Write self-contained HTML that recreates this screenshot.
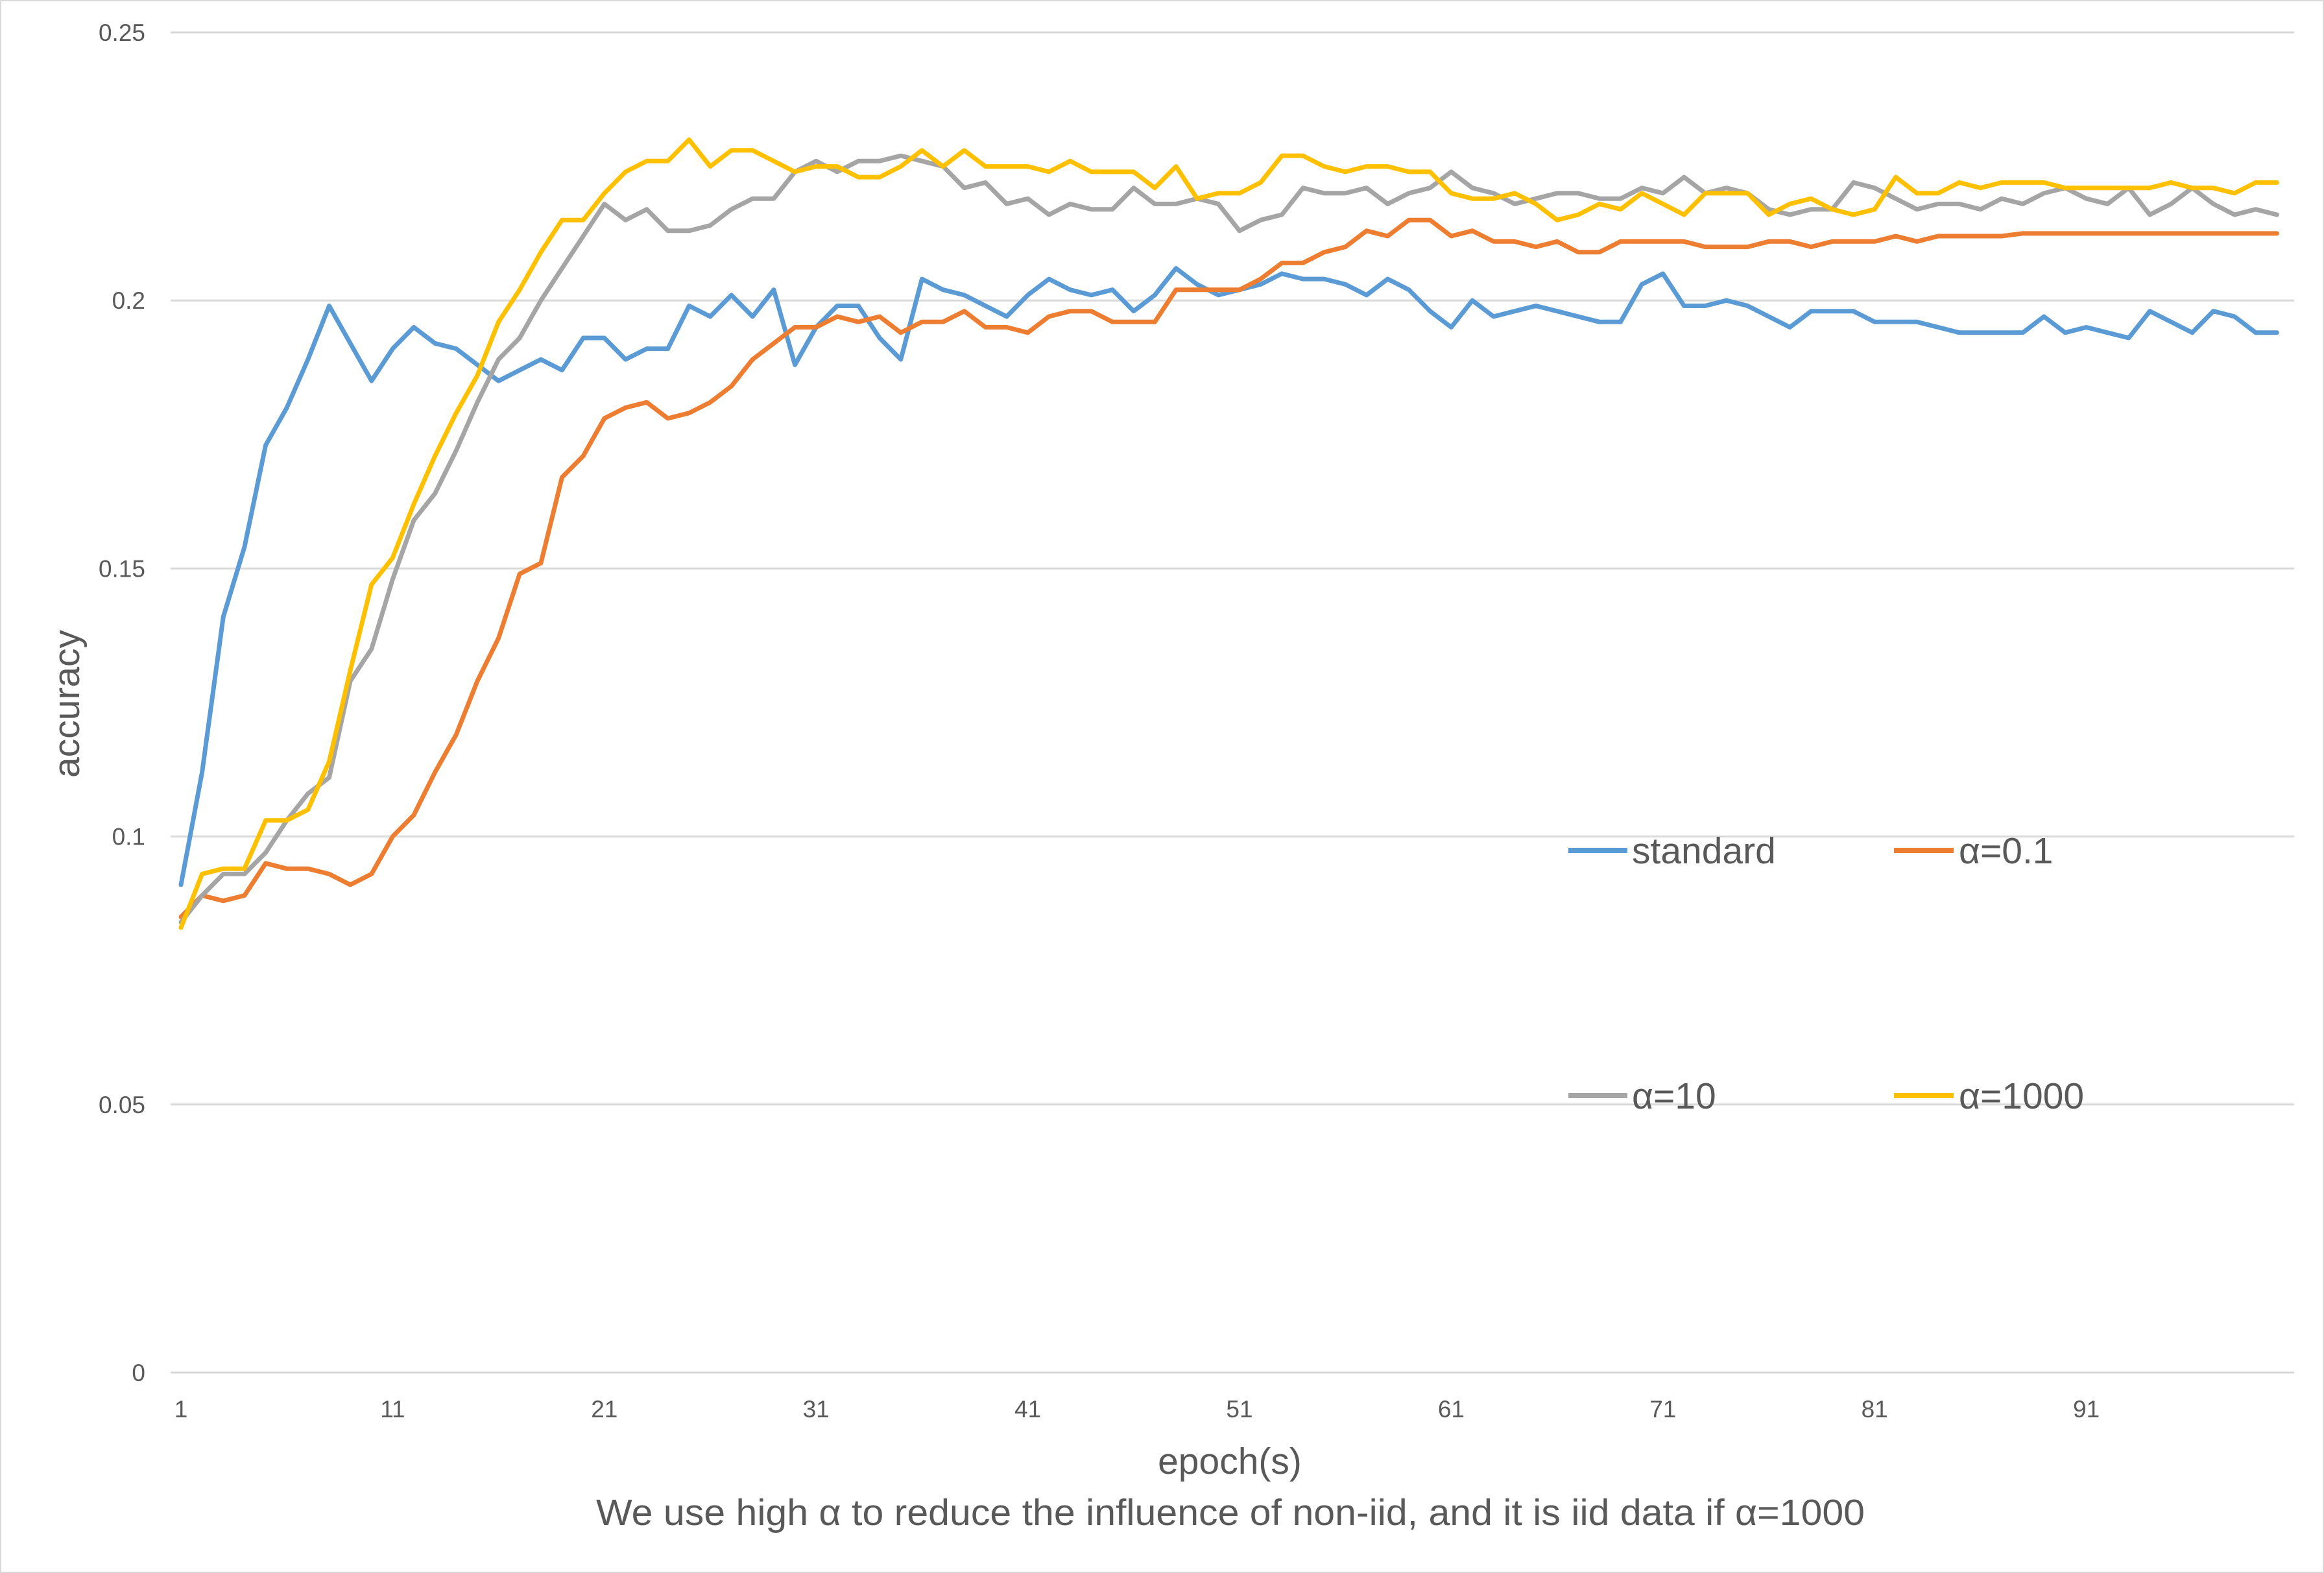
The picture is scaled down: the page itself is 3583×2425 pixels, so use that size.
<!DOCTYPE html>
<html><head><meta charset="utf-8"><style>
body{margin:0;background:#fff;}
svg{display:block;font-family:"Liberation Sans",sans-serif;}
</style></head><body>
<svg id="chart" width="3583" height="2425" viewBox="0 0 3583 2425">
<rect x="1" y="1" width="3581" height="2423" fill="#fff" stroke="#d9d9d9" stroke-width="2"/>
<g id="grid"></g><g id="ticks"></g><g id="lines"></g>
<text x="1896" y="2272" font-size="57" fill="#595959" text-anchor="middle">epoch(s)</text>
<text x="919" y="2351" font-size="57" fill="#595959" textLength="1956" lengthAdjust="spacingAndGlyphs">We use high α to reduce the influence of non-iid, and it is iid data if α=1000</text>
<text transform="translate(122,1085) rotate(-90)" font-size="57" fill="#595959" text-anchor="middle">accuracy</text>
<g>
<line x1="2418" y1="1311" x2="2509" y2="1311" stroke="#5b9bd5" stroke-width="8"/>
<text x="2516" y="1331" font-size="57" fill="#595959">standard</text>
<line x1="2920" y1="1311" x2="3012" y2="1311" stroke="#ed7d31" stroke-width="8"/>
<text x="3020" y="1331" font-size="57" fill="#595959">α=0.1</text>
<line x1="2418" y1="1689" x2="2509" y2="1689" stroke="#a5a5a5" stroke-width="8"/>
<text x="2516" y="1709" font-size="57" fill="#595959">α=10</text>
<line x1="2920" y1="1689" x2="3012" y2="1689" stroke="#ffc000" stroke-width="8"/>
<text x="3020" y="1709" font-size="57" fill="#595959">α=1000</text>
</g>
</svg>
<script>
const yTicks=[0,0.05,0.1,0.15,0.2,0.25];
const yTickLabels=["0","0.05","0.1","0.15","0.2","0.25"];
const xTicks=[1,11,21,31,41,51,61,71,81,91];
const standard=[0.091,0.112,0.141,0.154,0.173,0.180,0.189,0.199,0.192,0.185,0.191,0.195,0.192,0.191,0.188,0.185,0.187,0.189,0.187,0.193,0.193,0.189,0.191,0.191,0.199,0.197,0.201,0.197,0.202,0.188,0.195,0.199,0.199,0.193,0.189,0.204,0.202,0.201,0.199,0.197,0.201,0.204,0.202,0.201,0.202,0.198,0.201,0.206,0.203,0.201,0.202,0.203,0.205,0.204,0.204,0.203,0.201,0.204,0.202,0.198,0.195,0.200,0.197,0.198,0.199,0.198,0.197,0.196,0.196,0.203,0.205,0.199,0.199,0.200,0.199,0.197,0.195,0.198,0.198,0.198,0.196,0.196,0.196,0.195,0.194,0.194,0.194,0.194,0.197,0.194,0.195,0.194,0.193,0.198,0.196,0.194,0.198,0.197,0.194,0.194];
const alpha01=[0.085,0.089,0.088,0.089,0.095,0.094,0.094,0.093,0.091,0.093,0.100,0.104,0.112,0.119,0.129,0.137,0.149,0.151,0.167,0.171,0.178,0.180,0.181,0.178,0.179,0.181,0.184,0.189,0.192,0.195,0.195,0.197,0.196,0.197,0.194,0.196,0.196,0.198,0.195,0.195,0.194,0.197,0.198,0.198,0.196,0.196,0.196,0.202,0.202,0.202,0.202,0.204,0.207,0.207,0.209,0.210,0.213,0.212,0.215,0.215,0.212,0.213,0.211,0.211,0.210,0.211,0.209,0.209,0.211,0.211,0.211,0.211,0.210,0.210,0.210,0.211,0.211,0.210,0.211,0.211,0.211,0.212,0.211,0.212,0.212,0.212,0.212,0.2125,0.2125,0.2125,0.2125,0.2125,0.2125,0.2125,0.2125,0.2125,0.2125,0.2125,0.2125,0.2125];
const alpha10=[0.084,0.089,0.093,0.093,0.097,0.103,0.108,0.111,0.129,0.135,0.148,0.159,0.164,0.172,0.181,0.189,0.193,0.200,0.206,0.212,0.218,0.215,0.217,0.213,0.213,0.214,0.217,0.219,0.219,0.224,0.226,0.224,0.226,0.226,0.227,0.226,0.225,0.221,0.222,0.218,0.219,0.216,0.218,0.217,0.217,0.221,0.218,0.218,0.219,0.218,0.213,0.215,0.216,0.221,0.220,0.220,0.221,0.218,0.220,0.221,0.224,0.221,0.220,0.218,0.219,0.220,0.220,0.219,0.219,0.221,0.220,0.223,0.220,0.221,0.220,0.217,0.216,0.217,0.217,0.222,0.221,0.219,0.217,0.218,0.218,0.217,0.219,0.218,0.220,0.221,0.219,0.218,0.221,0.216,0.218,0.221,0.218,0.216,0.217,0.216];
const alpha1000=[0.083,0.093,0.094,0.094,0.103,0.103,0.105,0.114,0.131,0.147,0.152,0.162,0.171,0.179,0.186,0.196,0.202,0.209,0.215,0.215,0.220,0.224,0.226,0.226,0.230,0.225,0.228,0.228,0.226,0.224,0.225,0.225,0.223,0.223,0.225,0.228,0.225,0.228,0.225,0.225,0.225,0.224,0.226,0.224,0.224,0.224,0.221,0.225,0.219,0.220,0.220,0.222,0.227,0.227,0.225,0.224,0.225,0.225,0.224,0.224,0.220,0.219,0.219,0.220,0.218,0.215,0.216,0.218,0.217,0.220,0.218,0.216,0.220,0.220,0.220,0.216,0.218,0.219,0.217,0.216,0.217,0.223,0.220,0.220,0.222,0.221,0.222,0.222,0.222,0.221,0.221,0.221,0.221,0.221,0.222,0.221,0.221,0.220,0.222,0.222];
const seriesNames=["standard","alpha-0.1","alpha-10","alpha-1000"];
const seriesColors=["#5b9bd5","#ed7d31","#a5a5a5","#ffc000"];
const NS="http://www.w3.org/2000/svg";
function xs(e){return 279+(e-1)*32.64;}
function ys(v){return 2116-v*(2116-50)/0.25;}
const grid=document.getElementById('grid'),ticks=document.getElementById('ticks'),lines=document.getElementById('lines');
yTicks.forEach((v,i)=>{
  const l=document.createElementNS(NS,'line');
  l.setAttribute('x1',263);l.setAttribute('x2',3537);l.setAttribute('y1',ys(v));l.setAttribute('y2',ys(v));
  l.setAttribute('stroke','#d9d9d9');l.setAttribute('stroke-width',3);
  
  
  grid.appendChild(l);
  const t=document.createElementNS(NS,'text');
  t.setAttribute('x',224);t.setAttribute('y',ys(v)+13);t.setAttribute('text-anchor','end');
  t.setAttribute('font-size',37);t.setAttribute('fill','#595959');t.textContent=yTickLabels[i];
  
  
  ticks.appendChild(t);
});
xTicks.forEach(e=>{
  const t=document.createElementNS(NS,'text');
  t.setAttribute('x',xs(e));t.setAttribute('y',2185);t.setAttribute('text-anchor','middle');
  t.setAttribute('font-size',37);t.setAttribute('fill','#595959');t.textContent=String(e);
  
  
  ticks.appendChild(t);
});
[standard,alpha01,alpha10,alpha1000].forEach((s,k)=>{
  const p=document.createElementNS(NS,'polyline');
  p.setAttribute('points',s.map((v,i)=>xs(i+1).toFixed(1)+','+ys(v).toFixed(1)).join(' '));
  p.setAttribute('fill','none');p.setAttribute('stroke',seriesColors[k]);p.setAttribute('stroke-width',7);
  p.setAttribute('stroke-linejoin','round');p.setAttribute('stroke-linecap','round');
  
  
  lines.appendChild(p);
});
</script>
</body></html>
